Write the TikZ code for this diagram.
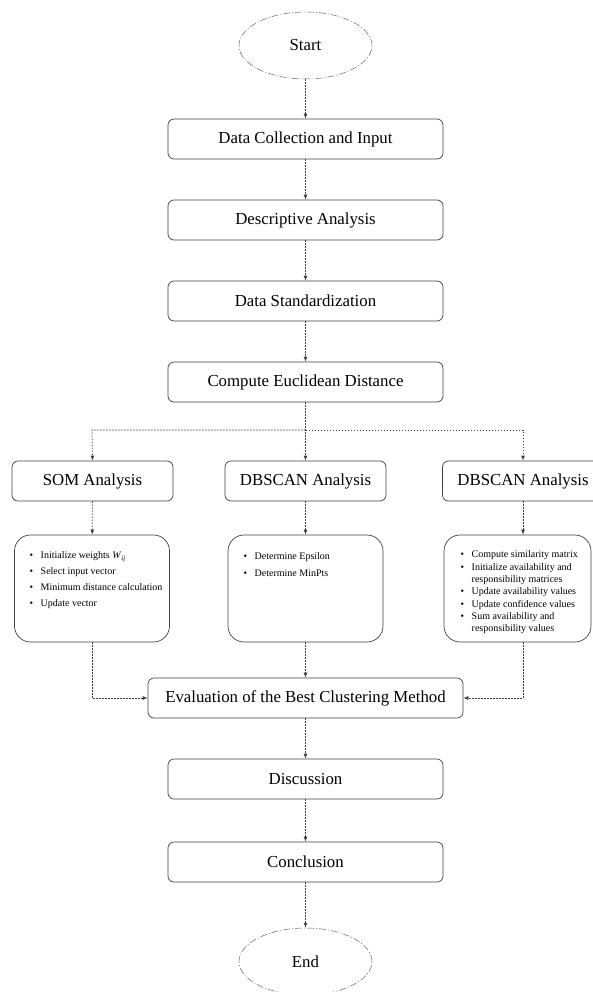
\documentclass[tikz,border=0pt]{standalone}
\usepackage{fontspec}
\setmainfont{Liberation Serif}
\usetikzlibrary{arrows.meta,shapes.geometric}
\begin{document}
\begin{tikzpicture}[x=1pt,y=-1pt,
  flow/.style={draw=black!75, line width=0.7pt, dash pattern=on 1.6pt off 1.4pt,
    -{Latex[length=5pt,width=4pt]}},
  term/.style={ellipse, draw=black!60, line width=0.5pt,
    dash pattern=on 7pt off 2pt on 1pt off 2pt,
    minimum width=133pt, minimum height=67pt, inner sep=0pt, font=\fontsize{16.8}{20}\selectfont},
  stepbox/.style={draw=black!75, line width=0.7pt, rounded corners=6pt,
    minimum height=40pt, inner sep=0pt, font=\fontsize{16.8}{20}\selectfont},
  listbox/.style={draw=black!75, line width=0.7pt, rounded corners=16pt,
    minimum width=155pt, minimum height=107pt, inner sep=0pt},
  listtext/.style={anchor=north west, inner sep=0pt, align=left,
    font=\fontsize{10}{12.3}\selectfont}
]
\useasboundingbox (0,0) rectangle (592,992);

% main column
\node[term] (start) at (305.5,45.5) {Start};
\node[stepbox, minimum width=275pt] (collect) at (305.5,139) {Data Collection and Input};
\node[stepbox, minimum width=275pt] (descr) at (305.5,220) {Descriptive Analysis};
\node[stepbox, minimum width=275pt] (std) at (305.5,301) {Data Standardization};
\node[stepbox, minimum width=275pt] (dist) at (305.5,382) {Compute Euclidean Distance};

% branch point
\coordinate (split) at (305.5,430);
\coordinate (splitL) at (92,430);
\coordinate (splitR) at (523,430);

% three analyses
\node[stepbox, minimum width=161pt] (som) at (92.5,481) {SOM Analysis};
\node[stepbox, minimum width=161pt] (dbs) at (305.5,481) {DBSCAN Analysis};
\node[stepbox, minimum width=161pt] (aff) at (523,481) {DBSCAN Analysis};

% step lists
\node[listbox] (somL) at (92,588.5) {};
\node[listbox] (dbsL) at (305.5,588.5) {};
\node[listbox, minimum width=147pt] (affL) at (517.5,588.5) {};

\node[listtext] (somT) at (29.5,550) {%
  \begin{tabular}{@{}l@{\hspace{7.5pt}}l@{}}
  \textbullet & Initialize weights \textit{W}\textsubscript{\textit{ij}}\\[3.5pt]
  \textbullet & Select input vector\\[3.5pt]
  \textbullet & Minimum distance calculation\\[3.5pt]
  \textbullet & Update vector
  \end{tabular}};
\node[listtext] (dbsT) at (243.5,551) {%
  \begin{tabular}{@{}l@{\hspace{7.5pt}}l@{}}
  \textbullet & Determine Epsilon\\[4.5pt]
  \textbullet & Determine MinPts
  \end{tabular}};
\node[listtext] (affT) at (460.5,549) {%
  \begin{tabular}{@{}l@{\hspace{7.5pt}}l@{}}
  \textbullet & Compute similarity matrix\\
  \textbullet & Initialize availability and\\
              & responsibility matrices\\
  \textbullet & Update availability values\\
  \textbullet & Update confidence values\\
  \textbullet & Sum availability and\\
              & responsibility values
  \end{tabular}};

% merge and end
\node[stepbox, minimum width=315pt] (eval) at (305.5,698) {Evaluation of the Best Clustering Method};
\node[stepbox, minimum width=275pt] (disc) at (305.5,779) {Discussion};
\node[stepbox, minimum width=275pt] (concl) at (305.5,862) {Conclusion};
\node[term] (end) at (305.5,961.5) {End};

% connectors
\draw[flow] (start) -- (collect);
\draw[flow] (collect) -- (descr);
\draw[flow] (descr) -- (std);
\draw[flow] (std) -- (dist);
\draw[flow] (dist.south) -- (split) -- (dbs.north);
\draw[flow] (split) -- (splitL) -- (som.north);
\draw[flow] (split) -- (splitR) -- (aff.north);
\draw[flow] (som) -- (somL);
\draw[flow] (dbs) -- (dbsL);
\draw[flow] (aff.south) -- (aff.south |- affL.north);
\draw[flow] (somL.south) |- (eval.west);
\draw[flow] (dbsL.south) -- (dbsL.south |- eval.north);
\draw[flow] (aff.south |- affL.south) |- (eval.east);
\draw[flow] (eval) -- (disc);
\draw[flow] (disc) -- (concl);
\draw[flow] (concl) -- (end);
\end{tikzpicture}
\end{document}
